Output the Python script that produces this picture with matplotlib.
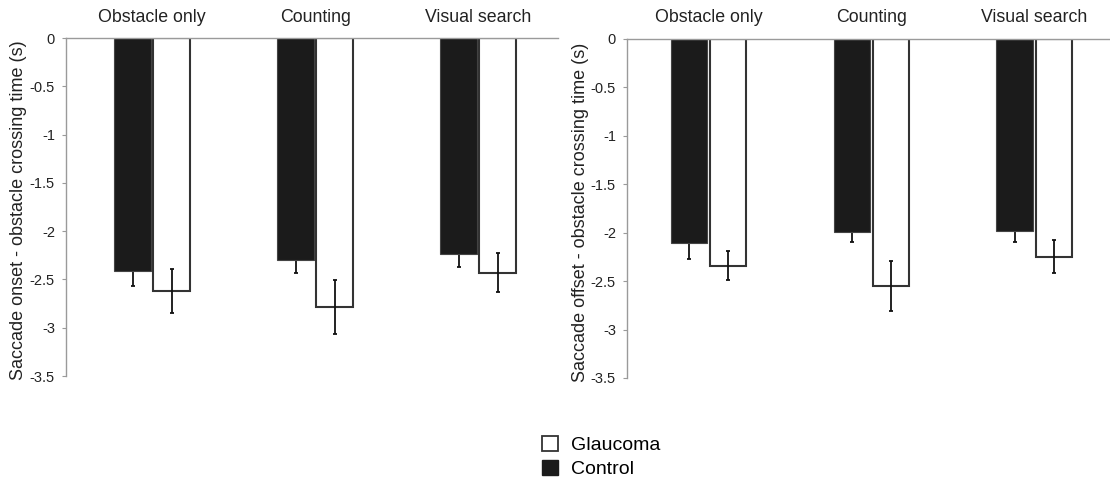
import numpy as np
import matplotlib
matplotlib.use("Agg")
import matplotlib.pyplot as plt
from matplotlib.patches import Patch

plt.rcParams['font.family'] = ['Liberation Sans', 'DejaVu Sans']

# Task conditions and group means (s), with error bar half-lengths
conditions = ["Obstacle only", "Counting", "Visual search"]

onset_control = [-2.41, -2.30, -2.24]
onset_control_err = [0.16, 0.13, 0.13]
onset_glaucoma = [-2.62, -2.79, -2.43]
onset_glaucoma_err = [0.23, 0.28, 0.20]

offset_control = [-2.11, -1.99, -1.98]
offset_control_err = [0.16, 0.11, 0.12]
offset_glaucoma = [-2.34, -2.55, -2.25]
offset_glaucoma_err = [0.15, 0.255, 0.17]

yticks = [0, -0.5, -1, -1.5, -2, -2.5, -3, -3.5]
ytick_labels = ["0", "-0.5", "-1", "-1.5", "-2", "-2.5", "-3", "-3.5"]

W, H = 1110, 487
fig = plt.figure(figsize=(W / 100, H / 100), dpi=100)

# axes boxes in pixels: left, top, right, bottom
ax1 = fig.add_axes([66 / W, 1 - 376 / H, 492 / W, 338 / H])
ax2 = fig.add_axes([627 / W, 1 - 378 / H, 483 / W, 339 / H])

x = np.arange(len(conditions)) + 0.5
bw = 0.224
off = 0.12
spine_col = "#9a9a9a"


def draw_panel(ax, ctrl, ctrl_err, glau, glau_err, ylabel, xlim):
    # control error bars sit behind the black bars, so only the lower half shows
    ax.errorbar(x - off, ctrl, yerr=ctrl_err, fmt="none", ecolor="#111111",
                elinewidth=1.3, capsize=1.6, capthick=1.3, zorder=1)
    ax.bar(x - off, ctrl, bw, color="#1b1b1b", edgecolor="#444444", linewidth=0.8, zorder=2)
    ax.bar(x + off, glau, bw, color="white", edgecolor="#333333", linewidth=1.5, zorder=2)
    ax.errorbar(x + off, glau, yerr=glau_err, fmt="none", ecolor="#111111",
                elinewidth=1.3, capsize=1.6, capthick=1.3, zorder=3)

    ax.set_ylim(-3.5, 0)
    ax.set_xlim(*xlim)
    ax.set_yticks(yticks)
    ax.set_yticklabels(ytick_labels, fontsize=10.5, color="#222222")
    ax.tick_params(axis="y", length=3, width=0.8, color=spine_col, pad=5)

    ax.xaxis.tick_top()
    ax.set_xticks(x)
    ax.set_xticklabels(conditions, fontsize=12.8, color="#222222")
    ax.tick_params(axis="x", length=0, pad=9)

    for s in ["bottom", "right"]:
        ax.spines[s].set_visible(False)
    for s in ["top", "left"]:
        ax.spines[s].set_color(spine_col)
        ax.spines[s].set_linewidth(1.0)

    ax.set_ylabel(ylabel, fontsize=13, color="#222222")


draw_panel(ax1, onset_control, onset_control_err, onset_glaucoma, onset_glaucoma_err,
           "Saccade onset - obstacle crossing time (s)", (-0.028, 2.99))
ax1.yaxis.set_label_coords(-0.079, 0.49)
draw_panel(ax2, offset_control, offset_control_err, offset_glaucoma, offset_glaucoma_err,
           "Saccade offset - obstacle crossing time (s)", (0.0, 2.965))
ax2.yaxis.set_label_coords(-0.079, 0.49)

handles = [Patch(facecolor="white", edgecolor="#333333", linewidth=1.3),
           Patch(facecolor="#1b1b1b", edgecolor="#1b1b1b")]
fig.legend(handles, ["Glaucoma", "Control"], loc="upper left",
           bbox_to_anchor=(542 / W, 1 - 436 / H), frameon=False, fontsize=14,
           handlelength=0.8, handleheight=0.8, handletextpad=0.7,
           labelspacing=0.3, borderpad=0, borderaxespad=0)

fig.savefig("out.png", dpi=100)
